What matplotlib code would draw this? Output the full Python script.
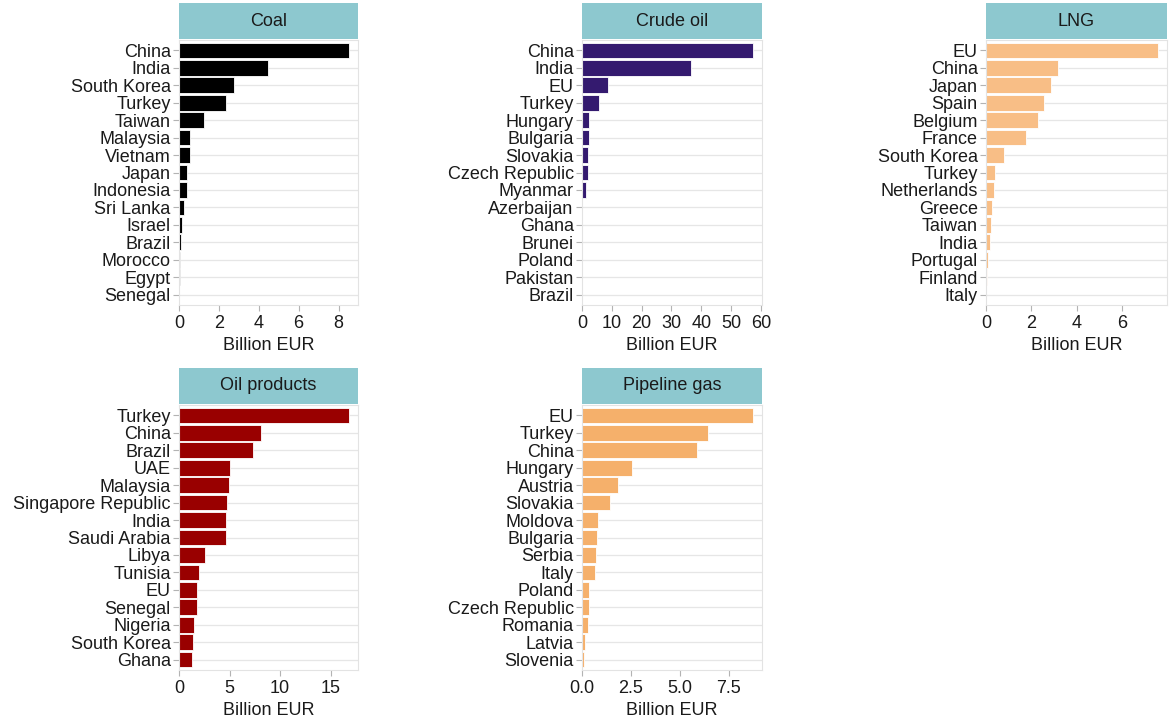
import matplotlib.pyplot as plt

plt.rcParams["font.family"] = ["Liberation Sans", "DejaVu Sans"]

W, H = 1170, 724

coal_names = ["China", "India", "South Korea", "Turkey", "Taiwan", "Malaysia", "Vietnam",
              "Japan", "Indonesia", "Sri Lanka", "Israel", "Brazil", "Morocco", "Egypt", "Senegal"]
coal_vals = [8.55, 4.48, 2.77, 2.38, 1.23, 0.57, 0.53, 0.40, 0.38, 0.23, 0.15, 0.08, 0.06, 0.06, 0.02]

crude_names = ["China", "India", "EU", "Turkey", "Hungary", "Bulgaria", "Slovakia",
               "Czech Republic", "Myanmar", "Azerbaijan", "Ghana", "Brunei", "Poland",
               "Pakistan", "Brazil"]
crude_vals = [57.5, 36.7, 8.6, 5.6, 2.2, 2.3, 2.1, 2.0, 1.5, 0.05, 0.04, 0.03, 0.03, 0.02, 0.02]

lng_names = ["EU", "China", "Japan", "Spain", "Belgium", "France", "South Korea", "Turkey",
             "Netherlands", "Greece", "Taiwan", "India", "Portugal", "Finland", "Italy"]
lng_vals = [7.58, 3.18, 2.84, 2.53, 2.30, 1.78, 0.80, 0.41, 0.36, 0.28, 0.22, 0.19, 0.09, 0.03, 0.01]

oilprod_names = ["Turkey", "China", "Brazil", "UAE", "Malaysia", "Singapore Republic", "India",
                 "Saudi Arabia", "Libya", "Tunisia", "EU", "Senegal", "Nigeria", "South Korea",
                 "Ghana"]
oilprod_vals = [16.87, 8.13, 7.30, 5.07, 4.97, 4.74, 4.65, 4.62, 2.53, 1.94, 1.78, 1.74, 1.51,
                1.41, 1.31]

pipe_names = ["EU", "Turkey", "China", "Hungary", "Austria", "Slovakia", "Moldova", "Bulgaria",
              "Serbia", "Italy", "Poland", "Czech Republic", "Romania", "Latvia", "Slovenia"]
pipe_vals = [8.75, 6.45, 5.89, 2.56, 1.84, 1.41, 0.80, 0.75, 0.73, 0.66, 0.36, 0.35, 0.32,
             0.15, 0.12]

# (title, names, values, colour, x ticks, tick labels, panel box in pixels: left, right, top, bottom)
panels = [
    ("Coal", coal_names, coal_vals, "#000000", [0, 2, 4, 6, 8], None, (179, 358, 40, 305)),
    ("Crude oil", crude_names, crude_vals, "#341a6f", [0, 10, 20, 30, 40, 50, 60], None,
     (582, 762, 40, 305)),
    ("LNG", lng_names, lng_vals, "#f8be86", [0, 2, 4, 6], None, (986, 1167, 40, 305)),
    ("Oil products", oilprod_names, oilprod_vals, "#990000", [0, 5, 10, 15], None,
     (179, 358, 405, 670)),
    ("Pipeline gas", pipe_names, pipe_vals, "#f5b06b", [0, 2.5, 5.0, 7.5],
     ["0.0", "2.5", "5.0", "7.5"], (582, 762, 405, 670)),
]

STRIP_H = 36
FS = 13
INK = "#1a1a1a"

fig = plt.figure(figsize=(W / 100, H / 100), dpi=100)

for title, names, vals, color, ticks, ticklabels, (l, r, t, b) in panels:
    ax = fig.add_axes([l / W, 1 - b / H, (r - l) / W, (b - t) / H])
    n = len(names)
    pos = list(range(n))[::-1]
    ax.barh(pos, vals, height=0.9, color=color, edgecolor="white", linewidth=0.6, zorder=2)
    ax.set_ylim(-0.6, n - 0.4)
    ax.set_xlim(0, max(vals) * 1.05)
    ax.set_yticks(pos)
    ax.set_yticklabels(names, fontsize=FS, color=INK)
    ax.set_xticks(ticks)
    if ticklabels:
        ax.set_xticklabels(ticklabels)
    ax.tick_params(axis="x", labelsize=FS, labelcolor=INK, color="#b3b3b3",
                   length=4, width=0.8, pad=3)
    ax.tick_params(axis="y", color="#b3b3b3", length=4, width=0.8, pad=2)
    ax.grid(axis="y", color="#e6e6e6", linewidth=0.9, zorder=0)
    ax.set_axisbelow(True)
    for side in ax.spines.values():
        side.set_color("#e3e3e3")
        side.set_linewidth(0.8)
    ax.set_xlabel("Billion EUR", fontsize=FS, color=INK, labelpad=4)

    # facet strip
    st = fig.add_axes([l / W, 1 - (t - 1) / H, (r - l) / W, STRIP_H / H])
    st.set_facecolor("#8dc8cf")
    st.set_xticks([])
    st.set_yticks([])
    for side in st.spines.values():
        side.set_visible(False)
    st.text(0.5, 0.5, title, ha="center", va="center", fontsize=FS, color=INK,
            transform=st.transAxes)

fig.savefig("out.png", dpi=100)
